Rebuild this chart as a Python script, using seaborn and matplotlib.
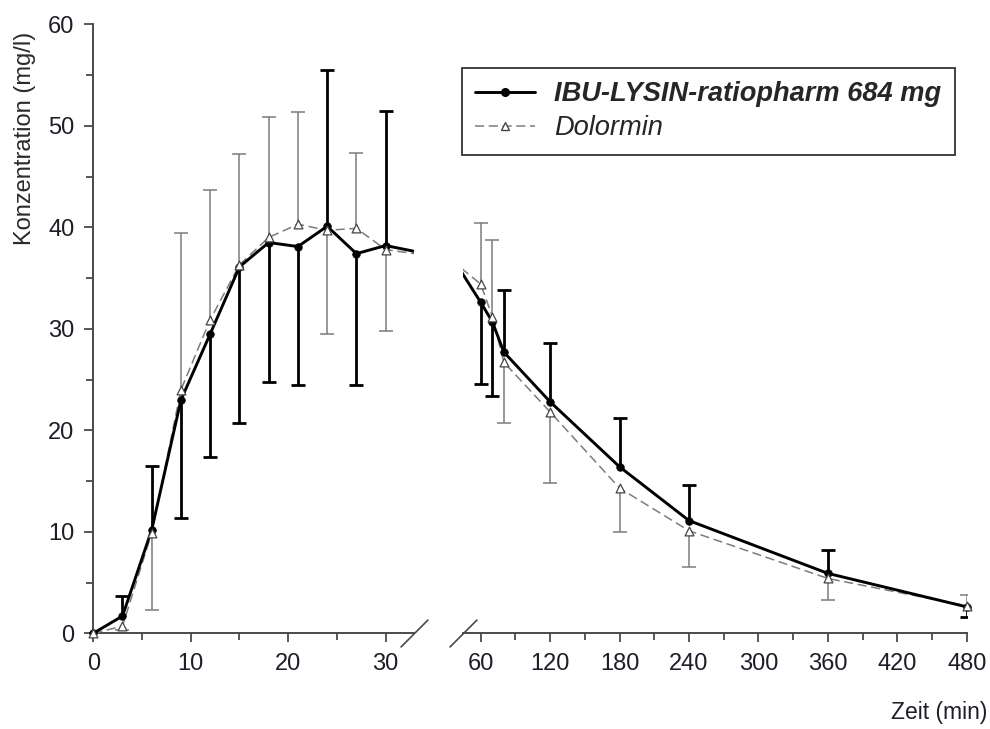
import numpy as np
import pandas as pd
import seaborn as sns
import matplotlib.pyplot as plt
from matplotlib.lines import Line2D
from matplotlib.ticker import MultipleLocator

# sampling times (min); 45 min lies in the axis break
zeit = [0, 3, 6, 9, 12, 15, 18, 21, 24, 27, 30, 45, 60, 70, 80, 120, 180, 240, 360, 480]

ibu_name = "IBU-LYSIN-ratiopharm 684 mg"
ibu_mean = [0, 1.7, 10.2, 23.0, 29.5, 36.1, 38.5, 38.1, 40.1, 37.4, 38.2, 35.3,
            32.6, 30.7, 27.7, 22.8, 16.4, 11.1, 5.9, 2.6]
ibu_sd = [0, 2.0, 6.3, 11.6, 12.1, 15.4, 13.7, 13.6, 15.4, 12.9, 13.3, np.nan,
          8.0, 7.3, 6.1, 5.8, 4.8, 3.5, 2.3, 1.0]

dol_name = "Dolormin"
dol_mean = [0, 0.7, 9.9, 24.0, 30.9, 36.3, 39.0, 40.3, 39.7, 39.9, 37.8, 35.8,
            34.4, 31.2, 26.7, 21.8, 14.3, 10.1, 5.4, 2.7]
dol_sd = [0, 0.4, 7.6, 15.4, 12.8, 10.9, 11.9, 11.1, 10.2, 7.4, 8.0, np.nan,
          6.0, 7.5, 6.0, 7.0, 4.3, 3.6, 2.1, 1.1]

sns.set_style("ticks")
plt.rcParams["font.family"] = ["Liberation Sans", "DejaVu Sans"]

df = pd.DataFrame({
    "Zeit": zeit * 2,
    "Konz": dol_mean + ibu_mean,
    "SD": dol_sd + ibu_sd,
    "Produkt": [dol_name] * len(zeit) + [ibu_name] * len(zeit),
})

colors = {ibu_name: "black", dol_name: "#7c7c7c"}
axis_col = "#4a4a4a"
dol_dash = (6, 3)

fig = plt.figure(figsize=(9.9, 7.29), dpi=100)
ax1 = fig.add_axes([0.0942, 0.1313, 0.3239, 0.8354])
ax2 = fig.add_axes([0.4677, 0.1313, 0.5088, 0.8354], sharey=ax1)

ranges = {ax1: (0, 30), ax2: (60, 480)}

for ax in (ax1, ax2):
    lo, hi = ranges[ax]
    # one-sided error bars: the higher curve gets the bar upwards
    for name, other, lw in ((dol_name, ibu_name, 1.1), (ibu_name, dol_name, 2.0)):
        d = df[df["Produkt"] == name].reset_index(drop=True)
        o = df[df["Produkt"] == other].reset_index(drop=True)
        keep = (d["SD"] > 0) & (d["Zeit"] >= lo) & (d["Zeit"] <= hi)
        sign = np.where(d["Konz"] >= o["Konz"], 1, -1)
        end = d["Konz"] + sign * d["SD"]
        ax.vlines(d["Zeit"][keep], d["Konz"][keep], end[keep], color=colors[name],
                  lw=lw, zorder=2)
        ax.plot(d["Zeit"][keep], end[keep], ls="none", marker="_", ms=9.5,
                mew=lw, color=colors[name], zorder=2)

    sns.lineplot(data=df, x="Zeit", y="Konz", hue="Produkt", style="Produkt",
                 size="Produkt", palette=colors,
                 dashes={ibu_name: "", dol_name: dol_dash},
                 sizes={ibu_name: 2.1, dol_name: 1.1},
                 estimator=None, legend=False, ax=ax, zorder=3)

    pts = df[(df["Zeit"] >= lo) & (df["Zeit"] <= hi)]
    p_ibu = pts[pts["Produkt"] == ibu_name]
    p_dol = pts[pts["Produkt"] == dol_name]
    sns.scatterplot(x=p_ibu["Zeit"], y=p_ibu["Konz"], marker="o", s=30,
                    color="black", edgecolor="black", linewidth=0.5,
                    ax=ax, zorder=4, clip_on=False)
    sns.scatterplot(x=p_dol["Zeit"], y=p_dol["Konz"], marker="^", s=40,
                    color="white", edgecolor="#444444", linewidth=0.9,
                    ax=ax, zorder=5, clip_on=False)

    ax.set_xlabel("")
    ax.set_ylabel("")
    for s in ("top", "right"):
        ax.spines[s].set_visible(False)
    for s in ("left", "bottom"):
        ax.spines[s].set_color(axis_col)
        ax.spines[s].set_linewidth(1.4)
    ax.tick_params(which="major", length=6.5, width=1.3, color=axis_col,
                   labelsize=17, labelcolor="#1e1e28")
    ax.tick_params(which="minor", length=5, width=1.3, color=axis_col)
    ax.tick_params(axis="x", pad=8)
    ax.tick_params(axis="y", pad=7)

ax1.set_ylim(0, 60)
ax1.yaxis.set_major_locator(MultipleLocator(10))
ax1.yaxis.set_minor_locator(MultipleLocator(5))
ax1.set_xlim(0, 32.9)
ax1.set_xticks([0, 10, 20, 30])
ax1.xaxis.set_minor_locator(MultipleLocator(5))

ax2.set_xlim(44.7, 480)
ax2.set_xticks([60, 120, 180, 240, 300, 360, 420, 480])
ax2.set_xticks([90, 150, 210, 270, 330, 390, 450], minor=True)
ax2.spines["left"].set_visible(False)
ax2.tick_params(axis="y", which="both", left=False, labelleft=False)

# axis break marks
brk = dict(marker=[(-1, -1), (1, 1)], markersize=20, ls="none", color=axis_col,
           mec=axis_col, mew=1.2, clip_on=False)
ax1.plot([1], [0], transform=ax1.transAxes, **brk)
ax2.plot([0], [0], transform=ax2.transAxes, **brk)

fig.text(25 / 990, 1 - 138 / 729, "Konzentration (mg/l)", rotation=90,
         ha="center", va="center", fontsize=17, color="#2a2a2a")
fig.text(987 / 990, 1 - 713 / 729, "Zeit (min)", ha="right", va="center",
         fontsize=16.5, color="#1e1e28")

handles = [
    Line2D([], [], color="black", lw=2.1, marker="o", ms=5.5, label=ibu_name),
    Line2D([], [], color=colors[dol_name], lw=1.1, ls=(0, dol_dash), marker="^",
           ms=6, mfc="white", mec="#444444", label=dol_name),
]
leg = fig.legend(handles=handles, loc="upper left",
                 bbox_to_anchor=(461.7 / 990, 1 - 67.7 / 729),
                 bbox_transform=fig.transFigure, borderaxespad=0,
                 frameon=True, fancybox=False, framealpha=1, edgecolor="#333333",
                 prop={"size": 19.6, "style": "italic"}, handlelength=2.2,
                 handletextpad=0.7, labelspacing=0.3, borderpad=0.5)
leg.get_frame().set_linewidth(1.3)
leg.get_texts()[0].set_fontweight("bold")

fig.savefig("out.png", dpi=100)
